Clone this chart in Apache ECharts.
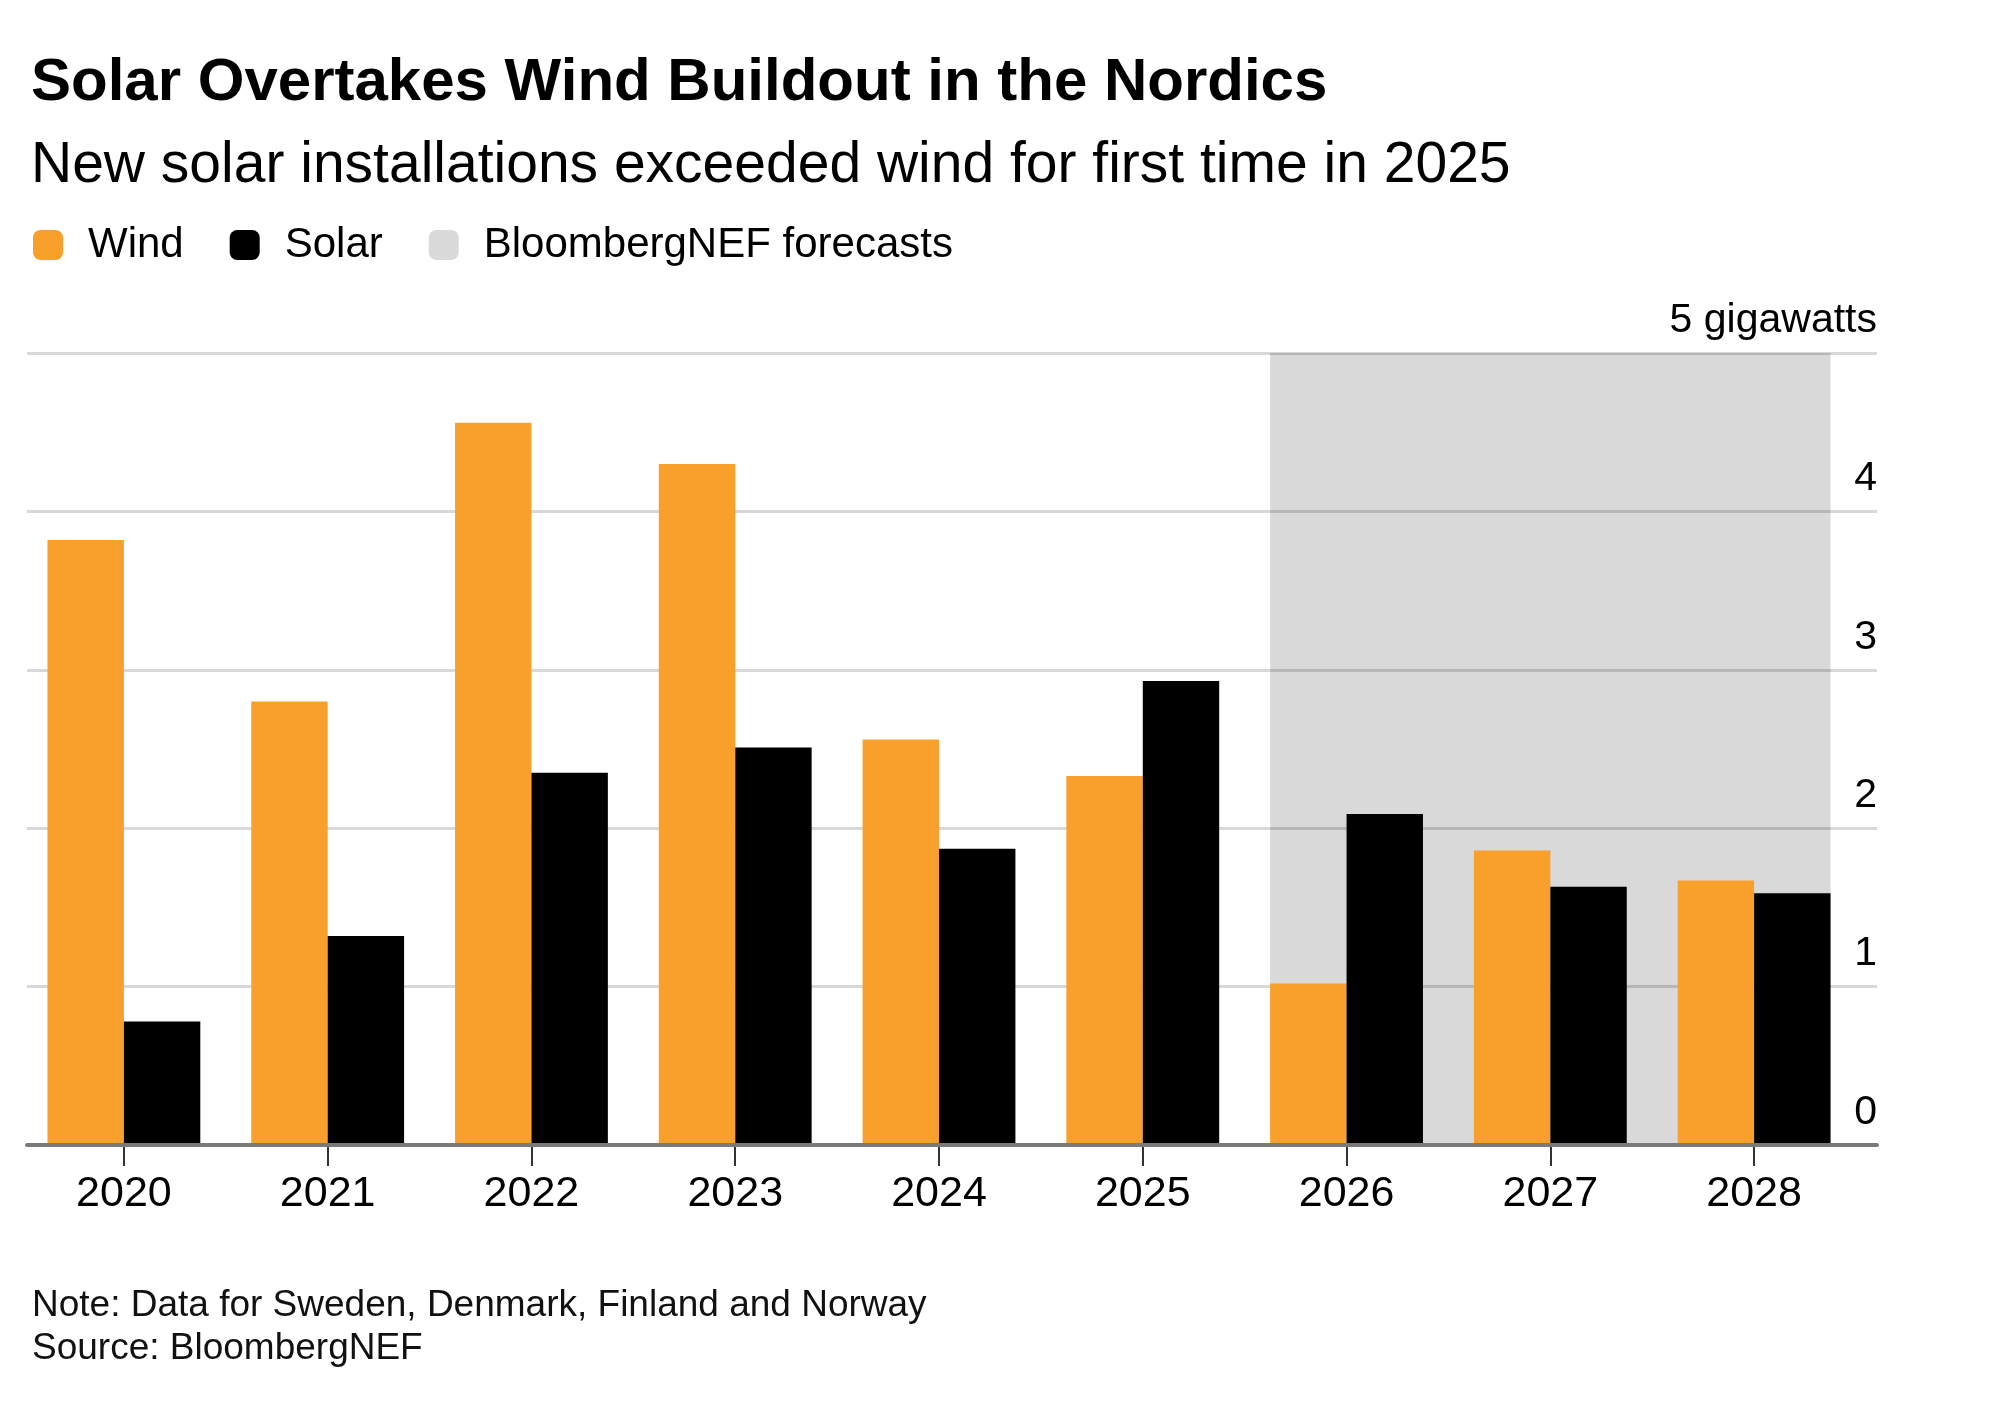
<!DOCTYPE html>
<html>
<head>
<meta charset="utf-8">
<script src="https://cdn.jsdelivr.net/npm/echarts@6/dist/echarts.min.js"></script>
<style>
html,body{margin:0;padding:0;background:#fff;}
#chart{width:2000px;height:1426px;}
</style>
</head>
<body>
<div id="chart"></div>
<script>
// ---- data ----
const categories = ['2020', '2021', '2022', '2023', '2024', '2025', '2026', '2027', '2028'];
const windValues = [3.82, 2.80, 4.56, 4.30, 2.56, 2.33, 1.02, 1.86, 1.67];
const solarValues = [0.78, 1.32, 2.35, 2.51, 1.87, 2.93, 2.09, 1.63, 1.59];
const forecastRange = ['2026', '2028'];
const yMin = 0, yMax = 5, yStep = 1;
const yUnit = 'gigawatts';

const FONT = "'Liberation Sans', Arial, sans-serif";
const CAT_GAP = 0.25;

const chart = echarts.init(document.getElementById('chart'), null, {renderer: 'canvas'});

const option = {
  animation: false,
  backgroundColor: '#ffffff',
  textStyle: {fontFamily: FONT},
  title: [
    {text: 'Solar Overtakes Wind Buildout in the Nordics', left: 26, top: 48,
      textStyle: {fontFamily: FONT, fontSize: 60, fontWeight: 'bold', color: '#000'}},
    {text: 'New solar installations exceeded wind for first time in 2025', left: 26, top: 133,
      textStyle: {fontFamily: FONT, fontSize: 57, fontWeight: 'normal', color: '#000'}},
    {text: 'Note: Data for Sweden, Denmark, Finland and Norway', left: 27, top: 1282,
      textStyle: {fontFamily: FONT, fontSize: 37, fontWeight: 'normal', color: '#111'}},
    {text: 'Source: BloombergNEF', left: 27, top: 1325,
      textStyle: {fontFamily: FONT, fontSize: 37, fontWeight: 'normal', color: '#111'}}
  ],
  legend: {
    left: 28, top: 219,
    icon: 'roundRect',
    itemWidth: 30, itemHeight: 30, itemGap: 46,
    selectedMode: false,
    data: ['Wind', 'Solar', 'BloombergNEF forecasts'],
    textStyle: {fontFamily: FONT, fontSize: 42, color: '#000', padding: [0, 0, 0, 20]}
  },
  grid: [
    {left: 22, right: 144, top: 353, bottom: 281},
    {left: 27, right: 123, top: 353, bottom: 281}
  ],
  xAxis: [
    {type: 'category', gridIndex: 0, data: categories,
      axisLine: {show: false},
      axisTick: {show: true, alignWithLabel: true, length: 21, lineStyle: {color: '#333', width: 2}},
      axisLabel: {fontFamily: FONT, fontSize: 43, color: '#000', margin: 28}},
    {type: 'value', gridIndex: 1, min: 0, max: 1, z: 10,
      axisLine: {show: true, lineStyle: {color: '#7a7a7a', width: 4}},
      axisTick: {show: false}, axisLabel: {show: false}, splitLine: {show: false}}
  ],
  yAxis: [
    {type: 'value', gridIndex: 0, min: yMin, max: yMax, interval: yStep, show: false},
    {type: 'value', gridIndex: 1, position: 'right', min: yMin, max: yMax, interval: yStep,
      axisLine: {show: false}, axisTick: {show: false},
      splitLine: {show: true, lineStyle: {color: '#d8d8d8', width: 3}},
      axisLabel: {inside: true, margin: 0, verticalAlign: 'bottom', lineHeight: 41,
        padding: [0, 0, 12, 0],
        fontFamily: FONT, fontSize: 41, color: '#000',
        formatter: v => (v === yMax ? v + ' ' + yUnit : String(v))}}
  ],
  series: [
    {name: 'BloombergNEF forecasts', type: 'custom', xAxisIndex: 0, yAxisIndex: 0, z: 1,
      silent: true,
      itemStyle: {color: '#dadada'},
      encode: {x: [0, 1]},
      data: [forecastRange],
      renderItem: function (params, api) {
        const cs = params.coordSys;
        const band = api.size([1, 0])[0];
        const half = band * (1 - CAT_GAP) / 2;
        const x0 = api.coord([api.value(0), 0])[0] - half;
        const x1 = api.coord([api.value(1), 0])[0] + half;
        return {type: 'rect', shape: {x: x0, y: cs.y, width: x1 - x0, height: cs.height},
          style: {fill: 'rgba(0,0,0,0.15)'}};
      }},
    {name: 'Wind', type: 'bar', xAxisIndex: 0, yAxisIndex: 0, z: 2, data: windValues,
      itemStyle: {color: '#f9a02c'}, barGap: '0%', barCategoryGap: (CAT_GAP * 100) + '%'},
    {name: 'Solar', type: 'bar', xAxisIndex: 0, yAxisIndex: 0, z: 2, data: solarValues,
      itemStyle: {color: '#000000'}, barGap: '0%', barCategoryGap: (CAT_GAP * 100) + '%'}
  ]
};
chart.setOption(option);
</script>
</body>
</html>
